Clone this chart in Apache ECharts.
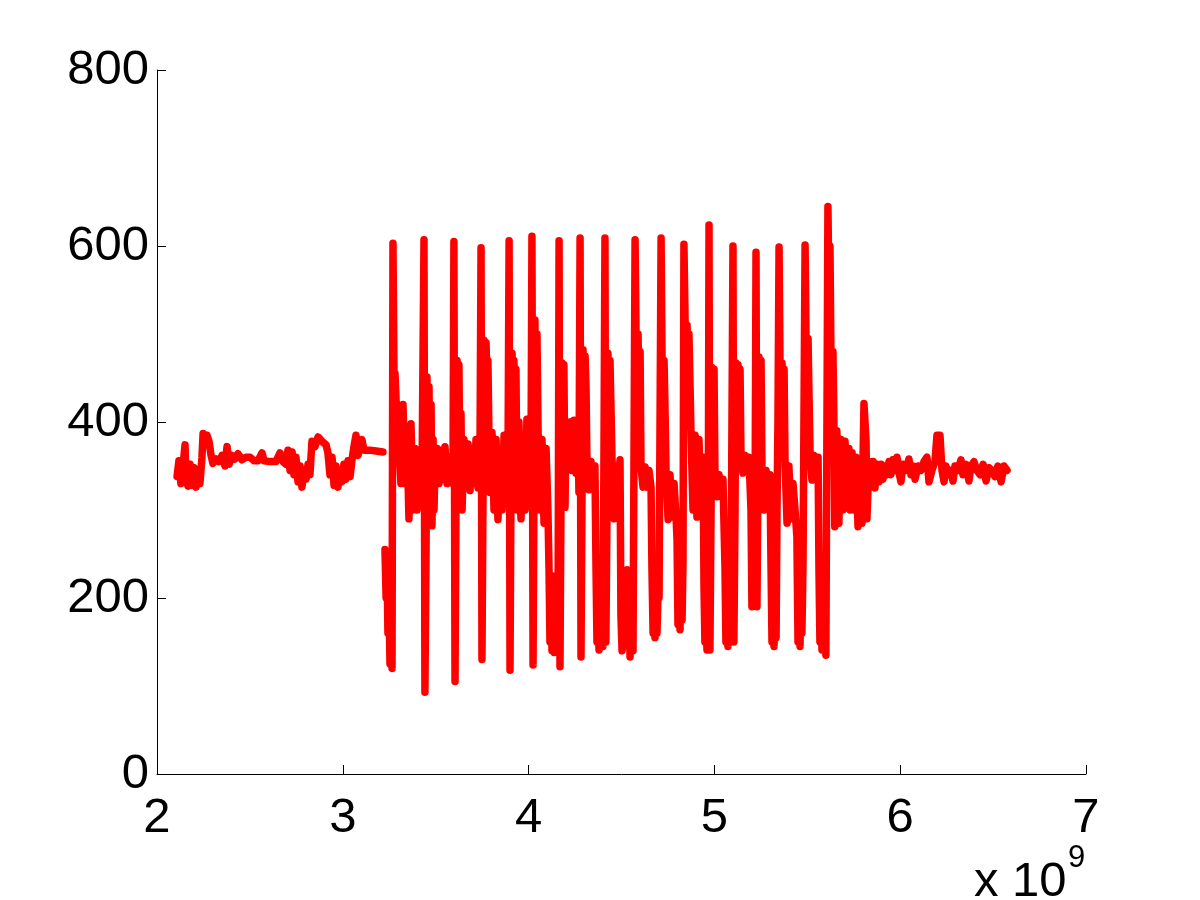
<!DOCTYPE html>
<html>
<head>
<meta charset="utf-8">
<script src="https://cdn.jsdelivr.net/npm/echarts@6/dist/echarts.min.js"></script>
<style>
html,body{margin:0;padding:0;background:#fff;}
#chart{width:1200px;height:900px;}
</style>
</head>
<body>
<div id="chart"></div>
<script>
// x values are in units of 1e9 (axis shows "x 10^9")
const xTicks = [2, 3, 4, 5, 6, 7];
const yTicks = [0, 200, 400, 600, 800];
const xExponentLabel = 'x 10';
const xExponent = '9';

// steady segment before the oscillations
const pre = [[2.108,338],[2.118,356],[2.129,330],[2.140,350],[2.151,374],[2.156,335],[2.167,327],[2.178,352],[2.188,328],[2.199,348],[2.210,326],[2.221,345],[2.231,330],[2.242,360],[2.248,387],[2.258,375],[2.269,385],[2.280,378],[2.291,362],[2.301,353],[2.318,358],[2.334,355],[2.350,362],[2.366,350],[2.377,372],[2.388,352],[2.404,362],[2.420,358],[2.436,364],[2.457,357],[2.479,360],[2.501,360],[2.522,356],[2.544,356],[2.565,365],[2.576,356],[2.608,355],[2.640,355],[2.662,365],[2.678,355],[2.694,352],[2.705,368],[2.716,345],[2.727,366],[2.737,340],[2.748,360],[2.759,332],[2.770,350],[2.780,326],[2.791,345],[2.802,335],[2.813,352],[2.823,340],[2.834,378],[2.850,372],[2.867,383],[2.888,378],[2.910,374],[2.920,365],[2.931,340],[2.942,360],[2.953,328],[2.963,350],[2.974,326],[2.985,345],[2.996,332],[3.006,352],[3.017,335],[3.028,356],[3.039,338],[3.050,358],[3.060,372],[3.071,385],[3.082,362],[3.093,372],[3.103,380],[3.114,368],[3.146,368],[3.179,367],[3.216,366]];

// oscillating section
const burst = [[3.227,255],[3.233,200],[3.238,235],[3.243,160],[3.249,190],[3.254,125],[3.259,150],[3.265,120],[3.270,603],[3.276,440],[3.281,455],[3.286,430],[3.292,380],[3.297,420],[3.302,410],[3.308,350],[3.313,330],[3.324,420],[3.335,330],[3.346,380],[3.356,290],[3.367,398],[3.378,300],[3.389,370],[3.399,300],[3.410,355],[3.421,310],[3.426,330],
[3.437,607],[3.442,93],[3.448,250],[3.453,451],[3.459,300],[3.464,440],[3.469,290],[3.475,420],[3.480,282],[3.486,380],[3.491,300],[3.496,350],[3.507,370],[3.518,330],[3.529,368],[3.539,335],[3.550,372],[3.561,330],[3.572,360],[3.582,340],[3.593,330],
[3.598,605],[3.604,105],[3.609,300],[3.615,470],[3.620,440],[3.625,465],[3.631,320],[3.636,410],[3.642,300],[3.652,380],[3.663,330],[3.674,375],[3.685,322],[3.695,370],[3.706,330],[3.717,380],[3.728,325],[3.738,350],
[3.744,598],[3.749,130],[3.755,330],[3.760,493],[3.765,440],[3.771,490],[3.776,445],[3.781,470],[3.787,380],[3.792,320],[3.803,388],[3.814,300],[3.825,380],[3.835,289],[3.846,360],[3.857,300],[3.868,385],[3.878,310],[3.889,350],
[3.895,606],[3.900,118],[3.905,320],[3.911,478],[3.916,420],[3.921,470],[3.927,417],[3.932,460],[3.938,300],[3.948,400],[3.959,290],[3.970,380],[3.981,300],[3.991,403],[4.002,330],[4.013,360],
[4.018,611],[4.024,124],[4.029,330],[4.034,516],[4.040,400],[4.045,500],[4.051,390],[4.061,300],[4.072,380],[4.083,285],[4.094,370],[4.104,300],[4.110,232],[4.115,150],[4.121,220],[4.126,140],[4.131,225],[4.137,138],[4.142,210],[4.147,145],[4.153,200],[4.158,138],
[4.164,606],[4.169,122],[4.174,300],[4.180,467],[4.185,440],[4.190,465],[4.196,303],[4.201,400],[4.212,350],[4.223,400],[4.233,345],[4.244,402],[4.255,342],[4.266,390],[4.271,320],
[4.277,609],[4.282,133],[4.287,300],[4.293,482],[4.298,433],[4.304,475],[4.309,440],[4.314,357],[4.325,323],[4.336,355],[4.347,325],[4.357,350],[4.363,232],[4.368,150],[4.374,220],[4.379,141],[4.384,225],[4.390,150],[4.395,210],[4.400,145],[4.406,380],
[4.411,609],[4.416,150],[4.422,300],[4.427,478],[4.433,395],[4.438,470],[4.443,420],[4.449,357],[4.460,290],[4.470,350],[4.481,300],[4.492,357],[4.497,180],[4.503,140],[4.508,200],[4.513,145],[4.519,228],[4.524,160],[4.530,232],[4.535,150],[4.540,222],[4.546,133],[4.551,200],[4.562,140],
[4.573,607],[4.578,505],[4.584,440],[4.589,500],[4.594,433],[4.600,480],[4.605,349],[4.616,326],[4.627,349],[4.637,326],[4.648,345],[4.659,326],[4.664,232],[4.670,160],[4.675,225],[4.680,155],[4.686,220],[4.691,160],[4.697,210],[4.702,200],
[4.713,609],[4.718,478],[4.724,420],[4.729,470],[4.734,417],[4.740,342],[4.751,289],[4.761,340],[4.772,292],[4.783,330],[4.794,290],[4.799,266],[4.804,170],[4.810,255],[4.815,164],[4.820,250],[4.826,175],[4.831,240],
[4.836,602],[4.842,518],[4.847,440],[4.853,510],[4.858,433],[4.863,500],[4.869,440],[4.874,388],[4.885,300],[4.896,385],[4.906,292],[4.917,380],[4.928,300],[4.939,360],[4.944,213],[4.949,150],[4.955,210],[4.960,141],[4.966,200],
[4.971,624],[4.976,141],[4.982,300],[4.987,462],[4.992,440],[4.998,460],[5.003,342],[5.014,315],[5.025,340],[5.035,318],[5.046,335],[5.057,235],[5.062,150],[5.068,230],[5.073,145],[5.078,220],[5.084,160],[5.089,200],
[5.100,600],[5.105,150],[5.111,300],[5.116,467],[5.121,440],[5.127,465],[5.132,442],[5.138,460],[5.143,364],[5.154,342],[5.165,362],[5.175,345],[5.186,360],[5.197,300],[5.202,190],[5.208,280],[5.213,195],[5.218,250],
[5.224,593],[5.229,190],[5.235,350],[5.240,474],[5.245,440],[5.251,470],[5.256,349],[5.267,300],[5.278,345],[5.288,305],[5.299,340],[5.305,232],[5.310,150],[5.315,225],[5.321,145],[5.326,220],[5.332,155],[5.337,300],[5.342,400],
[5.348,599],[5.353,470],[5.358,440],[5.364,467],[5.369,443],[5.375,460],[5.380,357],[5.391,285],[5.401,350],[5.412,290],[5.423,330],[5.434,300],[5.444,270],[5.450,150],[5.455,260],[5.461,145],[5.466,250],[5.471,160],[5.477,240],
[5.488,601],[5.493,501],[5.498,440],[5.504,495],[5.509,433],[5.515,364],[5.525,334],[5.536,362],[5.547,336],[5.558,360],[5.563,228],[5.568,150],[5.574,220],[5.579,141],[5.584,215],[5.590,150],[5.595,200],[5.600,135],
[5.611,645],[5.616,560],[5.622,600],[5.627,482],[5.632,417],[5.638,480],[5.643,406],[5.648,281],[5.659,390],[5.670,285],[5.681,380],[5.692,300],[5.703,378],[5.714,310],[5.724,370],[5.730,300],[5.741,365],[5.751,300],[5.762,360],[5.773,281],[5.784,350],[5.794,285],[5.805,421],[5.816,380],[5.821,290]];

// settling tail after the oscillations
const tail = [[5.832,355],[5.843,330],[5.854,355],[5.864,325],[5.875,352],[5.886,332],[5.897,352],[5.907,335],[5.918,350],[5.929,340],[5.940,355],[5.950,340],[5.961,357],[5.972,345],[5.983,360],[5.994,342],[6.004,332],[6.015,352],[6.031,345],[6.047,358],[6.058,340],[6.069,350],[6.080,335],[6.096,350],[6.112,345],[6.128,355],[6.144,360],[6.155,332],[6.171,345],[6.187,355],[6.198,385],[6.214,385],[6.225,345],[6.236,332],[6.246,350],[6.257,340],[6.273,345],[6.284,333],[6.295,350],[6.311,345],[6.327,357],[6.338,340],[6.354,352],[6.370,333],[6.381,350],[6.397,355],[6.413,345],[6.430,340],[6.446,352],[6.462,333],[6.478,348],[6.494,345],[6.510,338],[6.526,350],[6.543,332],[6.559,350],[6.575,345]];

const FONT = '"Liberation Sans", Arial, Helvetica, sans-serif';
const RED = '#ff0000';
const lineStyle = {color: RED, width: 7.5, join: 'round', cap: 'round'};

const chart = echarts.init(document.getElementById('chart'), null, {renderer: 'canvas'});
chart.setOption({
  animation: false,
  backgroundColor: '#ffffff',
  grid: {left: 157, right: 114, top: 70, bottom: 126, containLabel: false},
  xAxis: {
    type: 'value', min: xTicks[0], max: xTicks[xTicks.length - 1], interval: 1,
    axisLine: {show: true, onZero: false, lineStyle: {color: '#000', width: 1}},
    axisTick: {show: true, inside: true, length: 9, lineStyle: {color: '#000', width: 1}},
    axisLabel: {show: true, color: '#000', fontSize: 49, fontFamily: FONT, margin: 20, showMinLabel: true, showMaxLabel: true},
    splitLine: {show: false}
  },
  yAxis: {
    type: 'value', min: yTicks[0], max: yTicks[yTicks.length - 1], interval: 200,
    axisLine: {show: true, onZero: false, lineStyle: {color: '#000', width: 1}},
    axisTick: {show: true, inside: true, length: 9, lineStyle: {color: '#000', width: 1}},
    axisLabel: {show: true, color: '#000', fontSize: 49, fontFamily: FONT, margin: 8, showMinLabel: true, showMaxLabel: true},
    splitLine: {show: false}
  },
  series: [
    {type: 'line', data: pre, symbol: 'none', lineStyle: lineStyle, clip: false},
    {type: 'line', data: burst.concat(tail), symbol: 'none', lineStyle: lineStyle, clip: false}
  ],
  graphic: [
    {type: 'text', left: 974, top: 858, style: {text: xExponentLabel, font: '49px ' + FONT, fill: '#000'}},
    {type: 'text', left: 1068, top: 843, style: {text: xExponent, font: '31px ' + FONT, fill: '#000'}}
  ]
});
</script>
</body>
</html>
